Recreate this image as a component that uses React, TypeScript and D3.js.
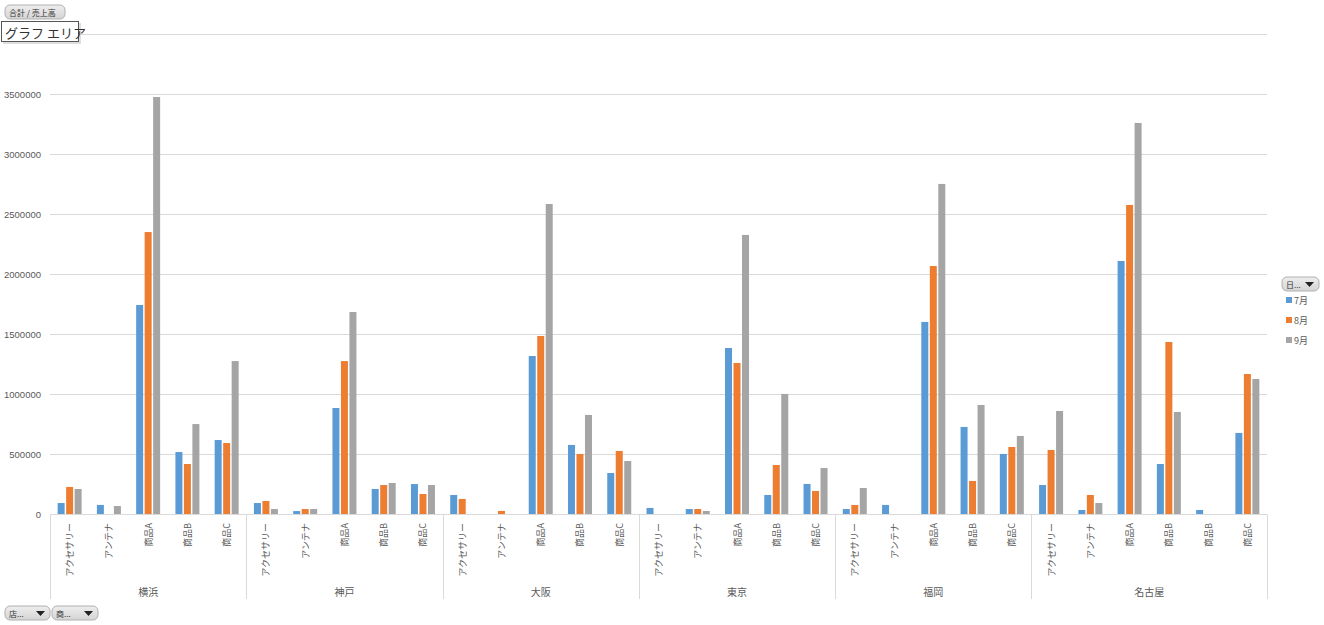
import React from 'react';
import * as d3 from 'd3';

const regions = ['横浜', '神戸', '大阪', '東京', '福岡', '名古屋'];
const productsByRegion = [
  ['アクセサリー', 'アンテナ', '商品A', '商品B', '商品C'],
  ['アクセサリー', 'アンテナ', '商品A', '商品B', '商品C'],
  ['アクセサリー', 'アンテナ', '商品A', '商品B', '商品C'],
  ['アクセサリー', 'アンテナ', '商品A', '商品B', '商品C'],
  ['アクセサリー', 'アンテナ', '商品A', '商品B', '商品C'],
  ['アクセサリー', 'アンテナ', '商品A', '商品B', '商品B', '商品C'],
];
const seriesNames = ['7月', '8月', '9月'];
const july = [
  94000, 78000, 1744000, 519000, 619000,
  94000, 27000, 886000, 211000, 252000,
  161000, 0, 1319000, 578000, 344000,
  53000, 44000, 1386000, 161000, 253000,
  44000, 78000, 1603000, 728000, 503000,
  244000, 36000, 2111000, 419000, 36000, 678000,
];
const august = [
  228000, 0, 2352000, 419000, 594000,
  111000, 44000, 1277000, 244000, 169000,
  128000, 28000, 1486000, 503000, 528000,
  0, 44000, 1261000, 411000, 194000,
  78000, 0, 2069000, 278000, 561000,
  536000, 161000, 2578000, 1436000, 0, 1169000,
];
const september = [
  211000, 69000, 3477000, 752000, 1277000,
  44000, 44000, 1686000, 261000, 244000,
  0, 0, 2586000, 828000, 444000,
  0, 28000, 2328000, 1003000, 386000,
  219000, 0, 2753000, 911000, 653000,
  861000, 94000, 3261000, 853000, 0, 1128000,
];
const yTicks = [0, 500000, 1000000, 1500000, 2000000, 2500000, 3000000, 3500000, 4000000];
const colors = ['#5B9BD5', '#ED7D31', '#A5A5A5'];

const W = 1324;
const H = 625;
const left = 50;
const right = 1267;
const top = 34.3;
const base = 514.3;
const JP = '"Noto Sans CJK JP", "Noto Sans", sans-serif';

function Button({ x, y, w, label, arrow }: { x: number; y: number; w: number; label: string; arrow: boolean }) {
  return (
    <g>
      <defs>
        <linearGradient id={`bg${x}${y}`} x1="0" y1="0" x2="0" y2="1">
          <stop offset="0" stopColor="#eeeeee" />
          <stop offset="1" stopColor="#d4d4d4" />
        </linearGradient>
      </defs>
      <rect x={x} y={y} width={w} height={14} rx={5} ry={5} fill={`url(#bg${x}${y})`} stroke="#b0b0b0" />
      <text x={x + 4} y={y + 10.5} fontSize={8} fill="#333" fontFamily={JP}>{label}</text>
      {arrow && (
        <path d={`M${x + w - 14},${y + 5} L${x + w - 5},${y + 5} L${x + w - 9.5},${y + 10} Z`} fill="#222" />
      )}
    </g>
  );
}

export default function App() {
  const categories: { region: number; product: string; idx: number }[] = [];
  productsByRegion.forEach((ps, r) => ps.forEach((p) => categories.push({ region: r, product: p, idx: categories.length })));
  const series = [july, august, september];

  const x = d3.scaleBand<number>().domain(categories.map((c) => c.idx)).range([left, right]).padding(0);
  const y = d3.scaleLinear().domain([0, 4000000]).range([base, top]);
  const groupW = x.bandwidth() * 0.611;
  const inner = d3.scaleBand<number>().domain([0, 1, 2]).range([0, groupW]).paddingInner(0.176).paddingOuter(0);

  const bounds: { start: number; end: number; name: string }[] = [];
  let k = 0;
  productsByRegion.forEach((ps, r) => {
    const s = x(k)!;
    const e = x(k + ps.length - 1)! + x.bandwidth();
    bounds.push({ start: s, end: e, name: regions[r] });
    k += ps.length;
  });

  return (
    <svg width={W} height={H} style={{ position: 'absolute', left: 0, top: 0, background: '#fff' }}>
      <rect x={0} y={0} width={W} height={H} fill="#fff" />
      {yTicks.slice(1).map((t) => (
        <line key={t} x1={left} x2={right} y1={Math.round(y(t)) + 0.5} y2={Math.round(y(t)) + 0.5} stroke="#d9d9d9" strokeWidth={1} />
      ))}
      {/* y labels (the top one is hidden under the tooltip in the reference) */}
      {yTicks.slice(0, -1).map((t) => (
        <text key={t} x={41} y={y(t)} textAnchor="end" dominantBaseline="central" fontSize={9.5} fill="#595959" fontFamily='"Liberation Sans", Arial, sans-serif'>
          {t}
        </text>
      ))}
      {categories.map((c) => (
        <g key={c.idx}>
          {series.map((s, si) => {
            const v = s[c.idx];
            if (!v) return null;
            const bx = x(c.idx)! + (x.bandwidth() - groupW) / 2 + inner(si)!;
            return <rect key={si} x={bx} y={y(v)} width={inner.bandwidth()} height={base - y(v)} fill={colors[si]} />;
          })}
        </g>
      ))}
      <line x1={left} x2={right} y1={Math.round(base) + 0.5} y2={Math.round(base) + 0.5} stroke="#d9d9d9" />
      {[bounds[0].start, ...bounds.map((b) => b.end)].map((bx, i) => (
        <line key={i} x1={Math.round(bx) + 0.5} x2={Math.round(bx) + 0.5} y1={base} y2={599} stroke="#d9d9d9" />
      ))}
      {categories.map((c) => (
        <text
          key={c.idx}
          transform={`translate(${x(c.idx)! + x.bandwidth() / 2},${523}) rotate(-90)`}
          textAnchor="end"
          dominantBaseline="central"
          fontSize={9}
          fill="#595959"
          fontFamily={JP}
        >
          {c.product}
        </text>
      ))}
      {bounds.map((b) => (
        <text key={b.name} x={(b.start + b.end) / 2} y={591} textAnchor="middle" dominantBaseline="central" fontSize={10} fill="#595959" fontFamily={JP}>
          {b.name}
        </text>
      ))}
      <Button x={1282} y={277} w={37} label="日..." arrow={true} />
      {seriesNames.map((n, i) => (
        <g key={n}>
          <rect x={1286} y={297 + i * 20} width={6} height={6} fill={colors[i]} />
          <text x={1294} y={300 + i * 20} dominantBaseline="central" fontSize={9} fill="#595959" fontFamily={JP}>
            {n}
          </text>
        </g>
      ))}
      <Button x={5} y={5} w={60} label="合計 / 売上高" arrow={false} />
      <rect x={3} y={23} width={78} height={21} fill="#c8c8c8" opacity={0.6} />
      <rect x={1.5} y={21.5} width={77} height={20} fill="#fff" stroke="#555" />
      <text x={5} y={32} dominantBaseline="central" fontSize={13} fill="#333" fontFamily={JP}>
        グラフ エリア
      </text>
      <Button x={5} y={606} w={45} label="店..." arrow={true} />
      <Button x={52} y={606} w={46} label="商..." arrow={true} />
    </svg>
  );
}
